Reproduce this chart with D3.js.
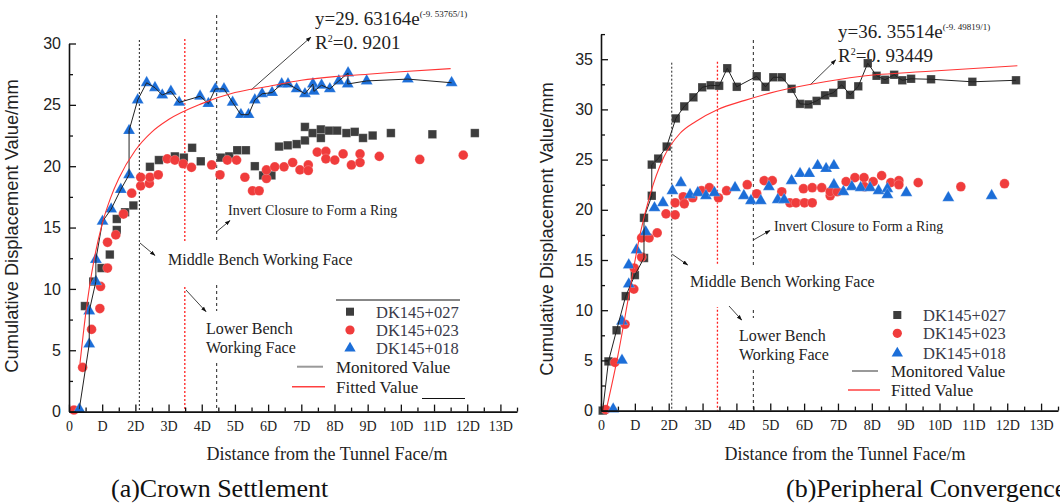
<!DOCTYPE html>
<html>
<head>
<meta charset="utf-8">
<script src="https://cdn.jsdelivr.net/npm/d3@7"></script>
<style>
body { margin:0; background:#fff; }
text { fill:#222; }
</style>
</head>
<body>
<div id="chart"></div>
<script>
// ---- data (x in tunnel diameters D, y in mm) ----
var tickLabels = ["0","D","2D","3D","4D","5D","6D","7D","8D","9D","10D","11D","12D","13D"];
var seriesNames = ["DK145+027","DK145+023","DK145+018"];

// (a) crown settlement
var xA027 = [0.48,0.73,0.98,1.23,1.44,1.44,1.69,1.94,2.44,2.71,3.19,3.46,3.71,3.97,4.58,4.83,5.07,5.33,5.60,5.85,6.10,6.33,6.59,6.86,7.11,7.11,7.34,7.59,7.59,7.84,8.08,8.36,8.61,8.86,9.15,9.70,10.95,12.23];
var yA027 = [8.6,10.6,11.7,12.8,14.8,15.7,16.25,16.8,19.95,20.5,20.8,20.7,21.5,20.4,20.7,20.8,21.3,21.3,20.0,19.25,19.25,21.6,21.7,21.8,22.1,23.2,22.7,23.0,22.3,22.9,22.9,22.7,22.8,22.3,22.5,22.7,22.6,22.7];
var xA023 = [0.15,0.41,0.68,0.93,0.95,1.16,1.16,1.41,1.64,1.89,2.16,2.16,2.42,2.44,2.69,2.96,3.19,3.44,3.69,4.30,4.55,4.77,5.05,5.30,5.53,5.73,5.95,5.95,6.20,6.48,6.74,6.96,7.21,7.21,7.48,7.74,7.74,8.01,8.26,8.51,8.77,8.77,9.35,10.57,11.88];
var yA023 = [0.13,3.6,6.7,8.4,10.2,11.7,13.8,14.4,16.1,17.8,18.4,19.1,18.6,19.1,19.3,20.6,20.5,20.2,19.9,20.1,19.3,20.5,20.5,19.1,18.0,18.0,19.0,19.7,19.95,19.95,20.3,19.7,20.1,19.65,21.15,21.2,20.6,20.5,21.0,20.1,21.0,20.3,20.8,20.55,20.9];
var xA018 = [0.31,0.61,0.61,0.81,0.81,1.01,1.27,1.56,1.81,1.81,2.07,2.34,2.59,2.81,3.07,3.32,3.95,4.20,4.41,4.67,4.93,5.18,5.41,5.60,5.82,6.12,6.41,6.60,6.86,7.11,7.35,7.38,7.61,7.86,8.13,8.41,8.40,8.97,10.21,11.53];
var yA018 = [0.2,5.5,8.2,10.6,12.4,15.5,16.5,18.1,19.3,22.9,25.4,26.8,26.4,25.8,26.1,25.2,25.7,25.1,26.3,26.3,25.2,24.2,24.2,25.4,25.9,26.0,26.7,26.7,26.3,25.9,26.7,26.1,26.6,26.3,26.95,27.6,26.7,26.95,27.1,26.8];
var xAfit = [0.33,0.5,0.75,1,1.25,1.5,2,2.5,3,4,5,6,7,8,9,10,11.5];
var yAfit = [3.9,7.9,12.3,15.3,17.4,19.0,21.3,22.8,23.8,25.1,26.0,26.5,27.0,27.3,27.5,27.7,27.95];

// (b) peripheral convergence
var xB027 = [0.05,0.22,0.46,0.73,1.00,1.27,1.27,1.50,1.50,1.69,1.94,2.21,2.46,2.73,2.99,3.24,3.49,3.73,4.01,4.60,4.86,5.09,5.34,5.63,5.88,6.13,6.37,6.62,6.86,7.11,7.36,7.60,7.88,8.14,8.39,8.66,8.90,9.16,9.75,10.97,12.26];
var yB027 = [0,4.9,8.0,11.4,13.5,15.2,19.2,21.4,24.5,25.1,26.3,29.1,30.3,31.2,32.2,32.4,32.35,34.1,32.25,33.3,32.25,33.2,33.2,32.05,30.55,30.5,30.85,31.4,31.65,32.45,31.45,32.3,34.6,33.35,32.95,33.45,32.9,33.05,33.0,32.75,32.9];
var xB023 = [0.14,0.41,0.71,0.97,0.98,1.20,1.20,1.42,1.66,1.92,2.19,2.19,2.43,2.46,2.71,2.97,3.20,3.47,3.71,4.32,4.60,4.82,5.06,5.34,5.58,5.76,6.01,6.24,5.98,6.24,6.52,6.77,6.77,6.98,7.24,7.50,7.77,7.78,8.04,8.29,8.56,8.80,8.80,9.37,10.63,11.92];
var yB023 = [0.1,4.8,8.6,12.1,14.2,15.3,17.2,17.2,17.7,19.6,19.5,20.7,21.3,20.6,21.2,21.9,22.2,21.2,21.9,22.5,21.6,22.9,22.9,21.8,20.7,20.7,20.7,20.7,22.1,22.2,22.2,21.4,21.8,21.8,22.8,23.2,23.2,22.3,22.8,23.4,22.7,22.9,22.5,22.7,22.3,22.6];
var xB018 = [0.36,0.62,0.62,0.82,0.82,1.05,1.32,1.58,1.83,2.11,2.36,2.63,2.86,3.10,3.35,3.96,4.22,4.43,4.72,4.96,5.22,5.41,5.63,5.88,6.15,6.40,6.65,6.88,6.88,7.16,7.41,7.67,7.95,8.20,8.46,8.46,9.02,10.26,11.54];
var yB018 = [0.15,5.0,8.9,12.6,14.5,16.0,17.8,20.2,20.7,21.9,22.7,21.5,21.7,21.4,21.7,22.2,21.4,20.9,20.9,22.3,21.0,21.0,22.9,23.6,23.6,24.4,24.1,24.4,22.5,21.8,22.3,22.2,22.2,21.9,22.1,21.5,21.7,21.2,21.4];
var xBfit = [0.15,0.5,0.85,1.15,1.45,1.85,2.33,2.8,3.45,4.25,5.2,6.2,7.7,9.7,12.3];
var yBfit = [0,5.5,12,17.5,21.5,25.2,27.6,28.8,30.0,30.9,31.8,32.5,33.3,33.8,34.35];

var yTicksA = [0,5,10,15,20,25,30];
var yTicksB = [0,5,10,15,20,25,30,35];

function pts(xs, ys){ return xs.map(function(v,i){ return [v, ys[i]]; }); }

var svg = d3.select("#chart").append("svg").attr("width",1060).attr("height",504);
var serif = "'Liberation Serif','Times New Roman',serif";
var sans = "'Liberation Sans',Arial,sans-serif";

svg.append("defs").append("marker")
  .attr("id","arr").attr("viewBox","0 0 10 10").attr("refX",9).attr("refY",5)
  .attr("markerWidth",7).attr("markerHeight",7).attr("orient","auto")
  .append("path").attr("d","M0,1.5L10,5L0,8.5Z").attr("fill","#111");

var symColor = ["#3d3d3d","#f03c3c","#1c6ed8"];
var symType = [d3.symbolSquare, d3.symbolCircle, d3.symbolTriangle];
var symSize = [72, 74, 62];

function panel(o){
  var g = svg.append("g");
  var x = d3.scaleLinear().domain([0,13.5]).range([o.x0, o.x1]);
  var y = d3.scaleLinear().domain([0,o.yMax]).range([o.y0, o.y1]);

  // construction stage guide lines
  o.guides.forEach(function(v){
    g.append("line").attr("x1",x(v.at)).attr("x2",x(v.at)).attr("y1",v.top).attr("y2",y(0))
      .attr("stroke",v.color).attr("stroke-width",v.w).attr("stroke-dasharray",v.dash);
  });

  // annotation labels on white boxes
  o.labels.forEach(function(l){
    var t = g.append("text").attr("x",l.x).attr("y",l.y)
      .style("font-family",serif).style("font-size",l.size+"px");
    l.lines.forEach(function(s,i){
      t.append("tspan").attr("x",l.x).attr("dy",i ? l.lh : 0).text(s);
    });
    if (l.pad){
      var b = t.node().getBBox();
      g.insert("rect","text").attr("x",b.x-l.pad[3]).attr("y",b.y-l.pad[0])
        .attr("width",b.width+l.pad[1]+l.pad[3]).attr("height",b.height+l.pad[0]+l.pad[2])
        .attr("fill","#fff");
    }
  });
  o.arrows.forEach(function(a){
    g.append("line").attr("x1",a[0]).attr("y1",a[1]).attr("x2",a[2]).attr("y2",a[3])
      .attr("stroke","#111").attr("stroke-width",0.8).attr("marker-end","url(#arr)");
  });

  // equation
  var e = o.eq;
  var t1 = g.append("text").attr("x",e.x).attr("y",e.y).style("font-family",serif).style("font-size","19px");
  t1.append("tspan").text(e.main);
  t1.append("tspan").attr("dy",-8).style("font-size","9px").text(e.sup);
  var t2 = g.append("text").attr("x",e.x).attr("y",e.y+24).style("font-family",serif).style("font-size","19px");
  t2.append("tspan").text("R");
  t2.append("tspan").attr("dy",-7).style("font-size","10px").text("2");
  t2.append("tspan").attr("dy",7).text(e.r2);

  // markers
  o.series.forEach(function(s){
    g.append("g").selectAll("path").data(s.data).join("path")
      .attr("transform",function(d){ return "translate("+x(d[0])+","+y(d[1])+")"; })
      .attr("d",d3.symbol().type(symType[s.k]).size(symSize[s.k]))
      .attr("fill",symColor[s.k]).attr("stroke","rgba(255,255,255,0.35)").attr("stroke-width",0.6);
  });

  // monitored & fitted lines
  var line = d3.line().x(function(d){ return x(d[0]); }).y(function(d){ return y(d[1]); });
  g.append("path").attr("d",line(o.monitored)).attr("fill","none").attr("stroke","#222").attr("stroke-width",1);
  g.append("path").attr("d",line.curve(d3.curveMonotoneX)(o.fit)).attr("fill","none")
    .attr("stroke","#ff3535").attr("stroke-width",1.1);

  // axes
  var xa = g.append("g").attr("transform","translate(0,"+y(0)+")")
    .call(d3.axisBottom(x).tickValues(d3.range(0,14)).tickSizeInner(-7).tickSizeOuter(0).tickPadding(9)
      .tickFormat(function(d,i){ return tickLabels[i]; }));
  xa.selectAll(".tick text").style("font-family",serif).style("font-size","14px").attr("fill","#222");
  g.append("g").attr("transform","translate(0,"+y(0)+")")
    .call(d3.axisBottom(x).tickValues(d3.range(0.5,13.6,1)).tickSizeInner(-4).tickSizeOuter(0).tickFormat(""))
    .select(".domain").remove();
  var ya = g.append("g").attr("transform","translate("+o.x0+",0)")
    .call(d3.axisLeft(y).tickValues(o.yTicks).tickSizeInner(-7).tickSizeOuter(0).tickPadding(8));
  ya.selectAll(".tick text").style("font-family",sans).style("font-size","16px").attr("fill","#333");
  g.append("g").attr("transform","translate("+o.x0+",0)")
    .call(d3.axisLeft(y).tickValues(d3.range(2.5,o.yMax+0.1,5)).tickSizeInner(-4).tickSizeOuter(0).tickFormat(""))
    .select(".domain").remove();
  g.selectAll(".domain").attr("stroke","#111").attr("stroke-width",1.6);
  g.selectAll(".tick line").attr("stroke","#111").attr("stroke-width",1.3);

  // titles
  g.append("text").attr("transform","translate("+o.ytX+","+o.ytY+") rotate(-90)")
    .attr("text-anchor","middle").style("font-family",sans).style("font-size","18.3px")
    .text("Cumulative Displacement Value/mm");
  g.append("text").attr("x",o.xtX).attr("y",460).attr("text-anchor","middle")
    .style("font-family",serif).style("font-size","18px").text("Distance from the Tunnel Face/m");
  g.append("text").attr("x",o.capX).attr("y",497)
    .style("font-family",serif).style("font-size","26px").style("fill","#111").text(o.caption);

  // legend
  var L = o.legend;
  if (L.topLine) g.append("line").attr("x1",L.topLine[0]).attr("x2",L.topLine[1]).attr("y1",L.topLine[2]).attr("y2",L.topLine[2]).attr("stroke","#111");
  if (L.underLine) g.append("line").attr("x1",L.underLine[0]).attr("x2",L.underLine[1]).attr("y1",L.underLine[2]).attr("y2",L.underLine[2]).attr("stroke","#111");
  seriesNames.forEach(function(n,i){
    var yy = L.rows[i];
    g.append("path").attr("transform","translate("+L.mx+","+yy+")")
      .attr("d",d3.symbol().type(symType[i]).size(symSize[i]*0.9)).attr("fill",symColor[i]);
    g.append("text").attr("x",L.tx).attr("y",yy+6).style("font-family",serif).style("font-size","16.5px")
      .style("fill","#3a3a4a").text(n);
  });
  g.append("line").attr("x1",L.mon[0]).attr("x2",L.mon[1]).attr("y1",L.mon[2]).attr("y2",L.mon[2]).attr("stroke","#999").attr("stroke-width",2);
  g.append("text").attr("x",L.mon[3]).attr("y",L.mon[2]+6).style("font-family",serif).style("font-size","17px").text("Monitored Value");
  g.append("line").attr("x1",L.fit[0]).attr("x2",L.fit[1]).attr("y1",L.fit[2]).attr("y2",L.fit[2]).attr("stroke","#ff4040").attr("stroke-width",1.5);
  g.append("text").attr("x",L.fit[3]).attr("y",L.fit[2]+6).style("font-family",serif).style("font-size","17px").text("Fitted Value");
}

panel({
  x0:69, x1:517, y0:411.6, y1:43.5, yMax:30, yTicks:yTicksA,
  guides:[{at:2.12,color:"#222",dash:"2,2",w:1,top:40},{at:3.49,color:"#ff1f1f",dash:"2,2",w:1.3,top:39},{at:4.45,color:"#222",dash:"3,3",w:1,top:15}],
  labels:[
    {lines:["Invert Closure to Form a Ring"], x:228, y:215, size:14, lh:0, pad:null},
    {lines:["Middle Bench Working Face"], x:168, y:265, size:16, lh:0, pad:[8,6,16,8]},
    {lines:["Lower Bench","Working Face"], x:206, y:334, size:16, lh:19, pad:[9,6,5,6]}
  ],
  arrows:[[216.7,231.7,230,220.5],[140,243,155,255.5],[186,290,206,311.7],[251,90,311,37]],
  eq:{x:315, y:25, main:"y=29. 63164e", sup:"(-9. 53765/1)", r2:"=0. 9201"},
  series:[{k:0,data:pts(xA027,yA027)},{k:1,data:pts(xA023,yA023)},{k:2,data:pts(xA018,yA018)}],
  monitored:pts(xA018,yA018), fit:pts(xAfit,yAfit),
  ytX:18, ytY:226, xtX:327, capX:111, caption:"(a)Crown Settlement",
  legend:{topLine:[336,460,300], underLine:[422,465,398.5], mx:350, tx:376, rows:[311.7,330,348.3],
    mon:[297,323,366.7,336], fit:[292,325,386.7,336]}
});

panel({
  x0:601, x1:1058, y0:410.6, y1:34.1, yMax:37.5, yTicks:yTicksB,
  guides:[{at:2.09,color:"#222",dash:"2,2",w:1,top:62.7},{at:3.44,color:"#ff1f1f",dash:"2,2",w:1.3,top:61.7},{at:4.5,color:"#222",dash:"3,3",w:1,top:40}],
  labels:[
    {lines:["Invert Closure to Form a Ring"], x:774, y:231, size:14, lh:0, pad:null},
    {lines:["Middle Bench Working Face"], x:690, y:287, size:16, lh:0, pad:[8,6,16,8]},
    {lines:["Lower Bench","Working Face"], x:739, y:341, size:16, lh:19, pad:[9,6,5,6]}
  ],
  arrows:[[753.3,240,770,230.5],[672.3,254.3,687.7,265],[729,306,741.7,320],[810,85,835.7,60]],
  eq:{x:838, y:38, main:"y=36. 35514e", sup:"(-9. 49819/1)", r2:"=0. 93449"},
  series:[{k:0,data:pts(xB027,yB027)},{k:1,data:pts(xB023,yB023)},{k:2,data:pts(xB018,yB018)}],
  monitored:pts(xB027,yB027), fit:pts(xBfit,yBfit),
  ytX:553, ytY:229, xtX:845, capX:786, caption:"(b)Peripheral Convergence",
  legend:{topLine:null, underLine:null, mx:897.3, tx:923, rows:[315,333.3,353.3],
    mon:[852,878,371,891], fit:[848,880,390,891]}
});
</script>
</body>
</html>
